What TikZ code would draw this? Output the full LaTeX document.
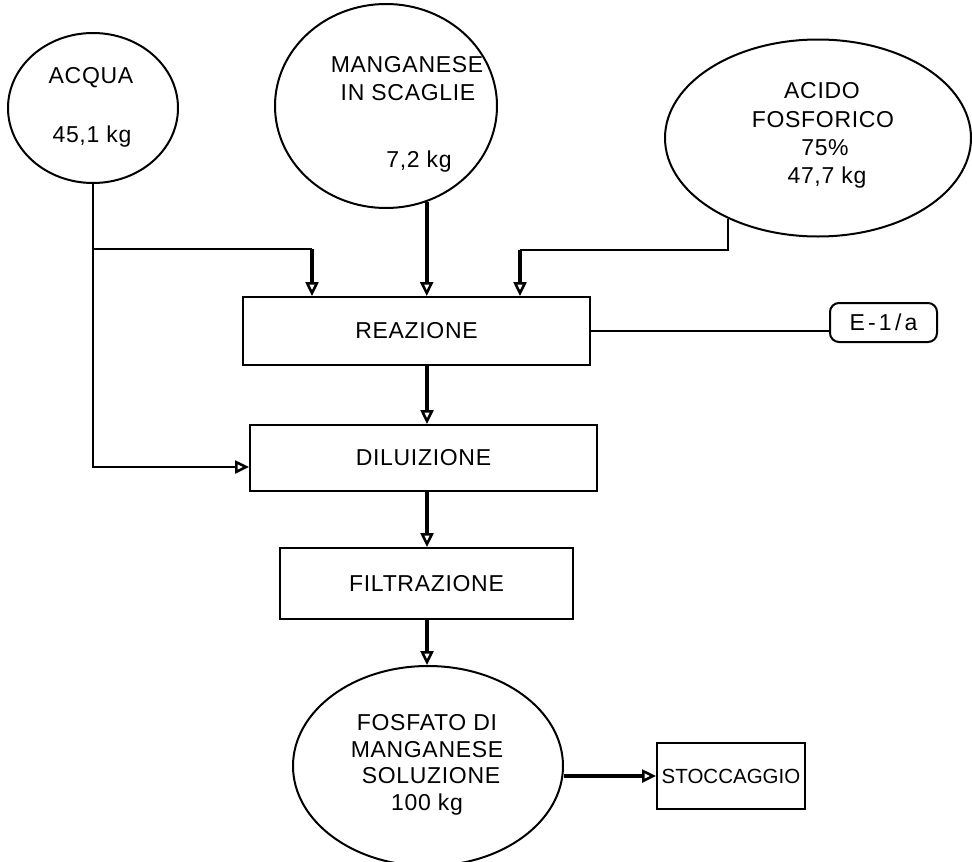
\documentclass[tikz,border=0pt]{standalone}
\usepackage{fontspec}
\setmainfont{Liberation Sans}[LetterSpace=3]
\newfontfamily\plainfont{Liberation Sans}
\newfontfamily\wideefont{Liberation Sans}[LetterSpace=14]
\usetikzlibrary{arrows.meta,shapes.geometric}
\begin{document}
\begin{tikzpicture}[x=1pt,y=-1pt,
  ell/.style={ellipse, draw, line width=2pt, inner sep=0pt},
  box/.style={rectangle, draw, line width=2pt, inner sep=0pt, font=\fontsize{23}{27}\selectfont},
  lab/.style={anchor=base, inner sep=0pt, font=\fontsize{23}{27}\selectfont},
  thinline/.style={line width=2pt},
  tipstyle/.style={-{Triangle[open,length=14pt,width=13pt,line width=2.5pt]}},
  thickarr/.style={line width=4pt, tipstyle},
  thinarr/.style={line width=2pt, tipstyle}]
\useasboundingbox (0,0) rectangle (972,862);
\fill[white] (0,0) rectangle (972,862);

% source ellipses
\node[ell, minimum width=170pt, minimum height=150pt] (acqua) at (93,108) {};
\node[ell, minimum width=222pt, minimum height=204pt] (mang) at (386,106) {};
\node[ell, minimum width=306pt, minimum height=197pt] (acido) at (818,138) {};
\node[ell, minimum width=270pt, minimum height=200pt] (fos) at (428,766) {};

% texts of ellipses
\node[lab] (t1) at (91,83) {ACQUA};
\node[lab] (t2) at (92,142) {45,1 kg};
\node[lab] (t3) at (407,72) {MANGANESE};
\node[lab] (t4) at (408,100) {IN SCAGLIE};
\node[lab] (t5) at (419,167) {7,2 kg};
\node[lab] (t6) at (822,98) {ACIDO};
\node[lab] (t7) at (823,127) {FOSFORICO};
\node[lab] (t8) at (825,155) {75\%};
\node[lab] (t9) at (827,183) {47,7 kg};
\node[lab] (t10) at (427,730) {FOSFATO DI};
\node[lab] (t11) at (427,757) {MANGANESE};
\node[lab] (t12) at (431,783) {SOLUZIONE};
\node[lab] (t13) at (427,810) {100 kg};

% process boxes
\node[box, minimum width=347pt, minimum height=68pt] (reaz) at (416.5,331) {REAZIONE};
\node[box, minimum width=347pt, minimum height=66pt] (dil) at (423.5,458) {DILUIZIONE};
\node[box, minimum width=293pt, minimum height=71pt] (filt) at (426.5,583.5) {FILTRAZIONE};
\node[box, minimum width=148pt, minimum height=66pt, font=\plainfont\fontsize{20.5}{24}\selectfont] (stoc) at (731,776) {STOCCAGGIO};
\node[box, rounded corners=9pt, minimum width=107pt, minimum height=39pt, font=\wideefont\fontsize{23}{27}\selectfont] (ebox) at (883.5,322.5) {E-1/a};

% helper coordinates
\coordinate (cx) at (427,0);
\coordinate (ja) at (312,249);
\coordinate (jb) at (520,250);

% connectors
\draw[thinline] (acqua.south |- ja) -- (ja);
\draw[thickarr] (ja) -- (ja |- reaz.north);
\draw[thinarr] (acqua.south) |- ([yshift=-9pt]dil.west);
\draw[thickarr] (mang.-67) -- (mang.-67 |- reaz.north);
\draw[thinline] (acido.222) |- (jb);
\draw[thickarr] (jb) -- (jb |- reaz.north);
\draw[thinline] (reaz.east) -- (reaz.east -| ebox.west);
\draw[thickarr] (reaz.south -| cx) -- (dil.north -| cx);
\draw[thickarr] (dil.south -| cx) -- (filt.north -| cx);
\draw[thickarr] (filt.south -| cx) -- (fos.north -| cx);
\draw[thickarr] (fos.east |- stoc.west) -- (stoc.west);
\end{tikzpicture}
\end{document}
